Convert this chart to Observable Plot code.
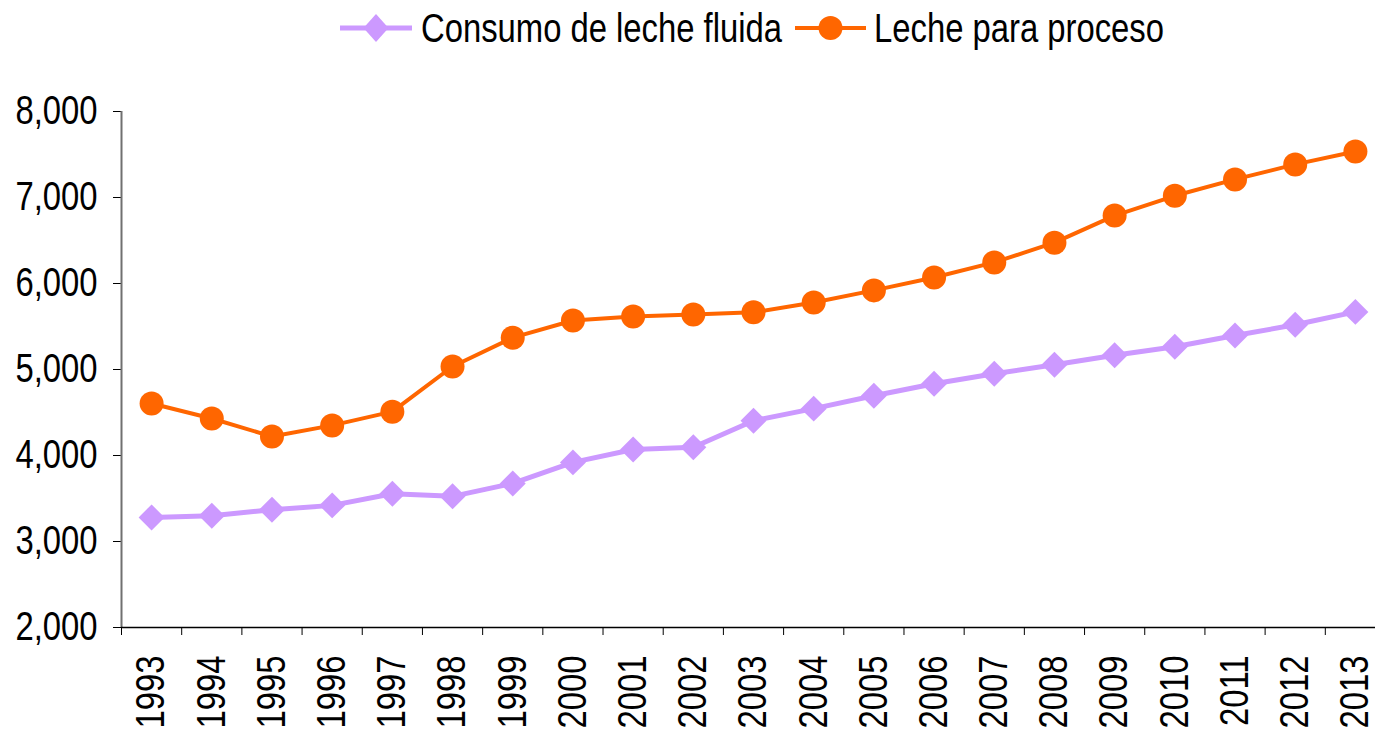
<!DOCTYPE html>
<html><head><meta charset="utf-8">
<script src="https://cdn.jsdelivr.net/npm/d3@7"></script>
<script src="https://cdn.jsdelivr.net/npm/@observablehq/plot@0.6"></script>
<style>
html,body{margin:0;padding:0;background:#fff;overflow:hidden;}
#legend{position:relative;height:60px;width:1375px;font-family:"Liberation Sans",Arial,sans-serif;font-size:40px;color:#000;}
.item{position:absolute;top:0;display:flex;align-items:center;height:56px;white-space:nowrap;}
.item svg{display:block;}
.item span{display:inline-block;transform:scaleX(0.82);transform-origin:left center;}
#chart svg{display:block;}
</style></head><body>
<div id="legend"></div><div id="chart"></div>
<script>
const years = [1993,1994,1995,1996,1997,1998,1999,2000,2001,2002,2003,2004,2005,2006,2007,2008,2009,2010,2011,2012,2013];
const fluida = [3280,3300,3370,3420,3555,3525,3675,3920,4070,4095,4405,4545,4695,4835,4950,5055,5165,5265,5395,5520,5670];
const proceso = [4605,4430,4220,4350,4510,5035,5370,5570,5615,5640,5665,5780,5920,6070,6245,6475,6790,7020,7210,7385,7535];
const seriesNames = ["Consumo de leche fluida","Leche para proceso"];
const seriesColors = ["#CC99FF","#FF6600"];
const yTicks = [2000,3000,4000,5000,6000,7000,8000];
const FONT = '"Liberation Sans",Arial,sans-serif';
const CONDENSE = 0.82;

const fluidaRows = years.map((y,i)=>({year:y, value:fluida[i], series:seriesNames[0]}));
const procesoRows = years.map((y,i)=>({year:y, value:proceso[i], series:seriesNames[1]}));
const boundaries = [years[0]-0.5, ...years.map(y=>y+0.5)];

// Legend
const legend = document.getElementById("legend");
const items = [
  {left:340, w:72, name:seriesNames[0], color:seriesColors[0], shape:"diamond", gap:9},
  {left:795, w:71, name:seriesNames[1], color:seriesColors[1], shape:"circle", gap:8}
];
for (const it of items) {
  const div = document.createElement("div");
  div.className = "item";
  div.style.left = it.left + "px";
  const cx = it.w/2;
  const marker = it.shape === "diamond"
    ? `<path d="M${cx},${20-14} L${cx+12.5},20 L${cx},${20+14} L${cx-12.5},20 Z" fill="${it.color}"/>`
    : `<circle cx="${cx}" cy="20" r="12" fill="${it.color}"/>`;
  div.innerHTML = `<svg width="${it.w}" height="40"><line x1="0" x2="${it.w}" y1="20" y2="20" stroke="${it.color}" stroke-width="${it.shape==='diamond'?5:4}"/>${marker}</svg><span style="margin-left:${it.gap}px">${it.name}</span>`;
  legend.appendChild(div);
}

const chart = Plot.plot({
  width: 1375,
  height: 670,
  marginTop: 51,
  marginBottom: 103,
  marginLeft: 121,
  marginRight: 0,
  x: {type: "linear", domain: [years[0]-0.5, years[years.length-1]+0.5], range: [121, 1385]},
  y: {domain: [2000, 8000]},
  style: {fontFamily: FONT, fontSize: "40px", color: "#000", background: "#fff", overflow: "hidden"},
  marks: [
    Plot.axisY({ticks: yTicks, tickFormat: d3.format(","), tickSize: 8, tickPadding: 16, label: null, fontSize: 40, stroke: "#000"}),
    Plot.axisX({ticks: years, tickFormat: d => String(d), tickSize: 0, tickRotate: -90, tickPadding: 28, label: null, fontSize: 40}),
    Plot.axisX({ticks: boundaries, tickFormat: () => "", tickSize: 8, label: null, stroke: "#000"}),
    Plot.ruleX([years[0]-0.5], {stroke: "#707070", strokeWidth: 2}),
    Plot.ruleY([2000], {stroke: "#000", strokeWidth: 1.5}),
    Plot.line(fluidaRows, {x: "year", y: "value", stroke: seriesColors[0], strokeWidth: 5}),
    Plot.dot(fluidaRows, {x: "year", y: "value", symbol: "diamond2", r: 11.7, fill: seriesColors[0], stroke: "none"}),
    Plot.line(procesoRows, {x: "year", y: "value", stroke: seriesColors[1], strokeWidth: 4}),
    Plot.dot(procesoRows, {x: "year", y: "value", r: 12, fill: seriesColors[1], stroke: "none"})
  ]
});
document.getElementById("chart").appendChild(chart);
// condense glyphs horizontally to mimic a narrow font
chart.querySelectorAll("text").forEach(t => {
  if (!t.textContent) return;
  const len = t.getComputedTextLength();
  if (len > 0) {
    t.setAttribute("textLength", (len * CONDENSE).toFixed(1));
    t.setAttribute("lengthAdjust", "spacingAndGlyphs");
  }
});
</script>
</body></html>
